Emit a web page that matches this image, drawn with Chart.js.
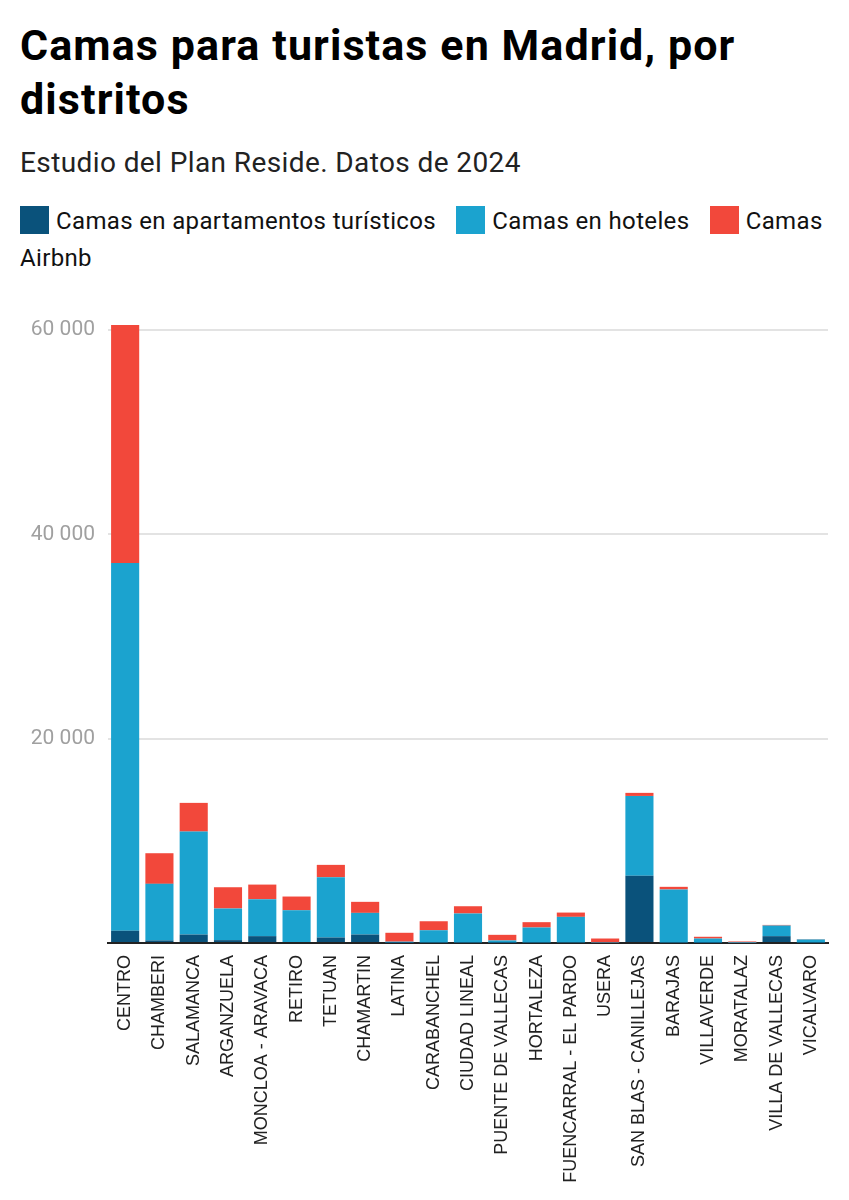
<!DOCTYPE html>
<html>
<head>
<meta charset="utf-8">
<script src="https://cdn.jsdelivr.net/npm/chart.js@4/dist/chart.umd.min.js"></script>
<style>
  body { margin: 0; background: #fff; width: 849px; height: 1200px; overflow: hidden; position: relative; }
  #title { position: absolute; left: 20px; top: 18px; width: 815px; font: 700 43px/54px Roboto, sans-serif; letter-spacing: 1.1px; color: #000; margin: 0; }
  #subtitle { position: absolute; left: 20px; top: 145px; font: 400 28px/36px Roboto, sans-serif; letter-spacing: 0.4px; color: #222; }
  #legend { position: absolute; left: 20px; top: 203px; width: 825px; font: 400 24px/37px Roboto, sans-serif; letter-spacing: 0.35px; color: #111; }
  #legend .sw { display: inline-block; width: 29px; height: 28px; vertical-align: -5px; margin-right: 7px; }
  #legend .item { margin-right: 14px; }
  #wrap { position: absolute; left: 0; top: 290px; width: 849px; height: 910px; }
</style>
</head>
<body>
<h1 id="title">Camas para turistas en Madrid, por distritos</h1>
<div id="subtitle">Estudio del Plan Reside. Datos de 2024</div>
<div id="legend"></div>
<div id="wrap"><canvas id="chart"></canvas></div>
<script>
// distritos y camas
const distritos = ["CENTRO", "CHAMBERI", "SALAMANCA", "ARGANZUELA", "MONCLOA - ARAVACA", "RETIRO", "TETUAN",
    "CHAMARTIN", "LATINA", "CARABANCHEL", "CIUDAD LINEAL", "PUENTE DE VALLECAS", "HORTALEZA",
    "FUENCARRAL - EL PARDO", "USERA", "SAN BLAS - CANILLEJAS", "BARAJAS", "VILLAVERDE", "MORATALAZ",
    "VILLA DE VALLECAS", "VICALVARO"];
const apartamentos = [1200, 250, 830, 280, 670, 100, 540, 830, 30, 50, 50, 30, 50, 60, 0, 6580, 50, 30, 0, 670, 50];
const hoteles = [36000, 5540, 10080, 3100, 3620, 3110, 5900, 2120, 100, 1200, 2840, 220, 1470, 2500, 50, 7820, 5190, 410, 30, 1040, 300];
const airbnb = [23300, 3000, 2810, 2080, 1430, 1340, 1210, 1080, 870, 880, 710, 550, 520, 420, 390, 300, 260, 170, 120, 60, 30];
const yTicks = [0, 20000, 40000, 60000];

const series = [
    { label: "Camas en apartamentos turísticos", data: apartamentos, color: "#0a527b" },
    { label: "Camas en hoteles", data: hoteles, color: "#1ba3cf" },
    { label: "Camas Airbnb", data: airbnb, color: "#f2483b" }
];

$legend = document.getElementById("legend");
series.forEach(s => {
    $legend.insertAdjacentHTML("beforeend",
        '<span class="item"><span class="sw" style="background:' + s.color + '"></span>' + s.label + '</span> ');
});

const fmt = v => String(v).replace(/\B(?=(\d{3})+(?!\d))/g, " ");

const chart = new Chart(document.getElementById("chart"), {
    type: "bar",
    data: {
        labels: distritos,
        datasets: series.map(s => ({
            label: s.label,
            data: s.data,
            backgroundColor: s.color,
            borderWidth: 0,
            barPercentage: 0.82,
            categoryPercentage: 1
        }))
    },
    options: {
        responsive: true,
        maintainAspectRatio: false,
        animation: false,
        layout: { padding: { top: 30, right: 21, left: 0, bottom: 0 } },
        plugins: { legend: { display: false }, tooltip: { enabled: false } },
        scales: {
            x: {
                stacked: true,
                grid: { display: false, drawTicks: false },
                border: { display: true, color: "#222", width: 2 },
                ticks: {
                    minRotation: 90, maxRotation: 90, autoSkip: false, padding: 12,
                    color: "#222", font: { family: "Liberation Sans, Arial, sans-serif", size: 18 }
                },
                afterFit: s => { s.height = 257; }
            },
            y: {
                stacked: true,
                min: 0, max: 61000,
                afterBuildTicks: s => { s.ticks = yTicks.map(v => ({ value: v })); },
                grid: { color: c => c.tick && c.tick.value === 0 ? "rgba(0,0,0,0)" : "#e3e3e3", lineWidth: 2, drawTicks: false },
                border: { display: false },
                ticks: {
                    padding: 13, color: "#a0a0a0",
                    font: { family: "Roboto, sans-serif", size: 21 },
                    callback: v => v === 0 ? "" : fmt(v)
                },
                afterFit: s => { s.width = 108; }
            }
        }
    }
});
</script>
</body>
</html>
